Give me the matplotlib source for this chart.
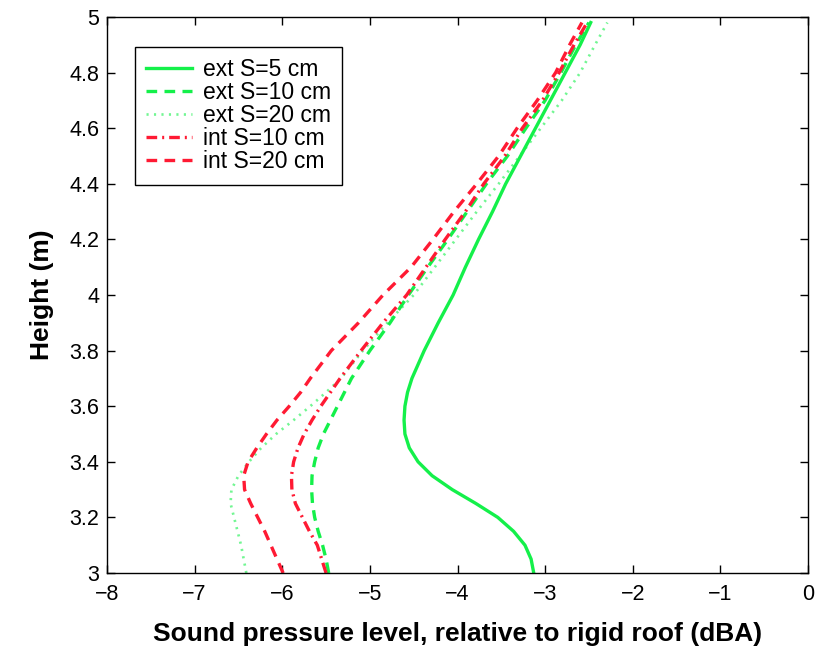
import matplotlib
matplotlib.use("Agg")
import matplotlib.pyplot as plt
from matplotlib.ticker import FuncFormatter, MultipleLocator

plt.rcParams['font.family'] = ['Liberation Sans', 'DejaVu Sans']

heights = [3.00, 3.05, 3.10, 3.15, 3.20, 3.25, 3.30, 3.35, 3.40, 3.45, 3.50,
           3.55, 3.60, 3.65, 3.70, 3.80, 3.90, 4.00, 4.10, 4.20, 4.30, 4.40,
           4.50, 4.60, 4.70, 4.80, 4.90, 4.98]

ext_s5 = [-3.13, -3.16, -3.23, -3.36, -3.54, -3.79, -4.06, -4.29, -4.45, -4.55, -4.60,
          -4.61, -4.60, -4.57, -4.52, -4.38, -4.22, -4.05, -3.91, -3.76, -3.60, -3.45,
          -3.28, -3.11, -2.94, -2.77, -2.60, -2.48]

ext_s10 = [-5.47, -5.50, -5.54, -5.59, -5.63, -5.655, -5.665, -5.66, -5.63, -5.59, -5.53,
           -5.45, -5.37, -5.29, -5.21, -5.00, -4.77, -4.56, -4.34, -4.11, -3.89, -3.67,
           -3.43, -3.22, -3.00, -2.82, -2.65, -2.50]

ext_s20 = [-6.41, -6.44, -6.47, -6.51, -6.55, -6.59, -6.58, -6.50, -6.38, -6.24, -6.07,
           -5.87, -5.68, -5.50, -5.33, -5.08, -4.80, -4.50, -4.26, -4.02, -3.78, -3.53,
           -3.29, -3.05, -2.81, -2.60, -2.43, -2.29]

int_s10 = [-5.50, -5.55, -5.60, -5.69, -5.77, -5.85, -5.89, -5.895, -5.87, -5.82, -5.75,
           -5.66, -5.56, -5.45, -5.34, -5.10, -4.85, -4.58, -4.36, -4.14, -3.91, -3.70,
           -3.46, -3.26, -3.03, -2.84, -2.67, -2.52]

int_s20 = [-5.99, -6.06, -6.13, -6.20, -6.28, -6.36, -6.43, -6.44, -6.39, -6.29, -6.18,
           -6.06, -5.92, -5.79, -5.68, -5.44, -5.13, -4.85, -4.53, -4.28, -4.04, -3.78,
           -3.53, -3.32, -3.09, -2.88, -2.72, -2.58]

labels = ["ext S=5 cm", "ext S=10 cm", "ext S=20 cm", "int S=10 cm", "int S=20 cm"]

green = '#14f04a'
red = '#ff1a33'

fig = plt.figure(figsize=(8.23, 6.46), dpi=100)
ax = fig.add_axes([107/823, 73/646, 701/823, 556/646])

lw = 2.4
ax.plot(ext_s5, heights, color=green, lw=lw, linestyle='-', label=labels[0])
ax.plot(ext_s10, heights, color=green, lw=lw, linestyle=(0, (3.2, 2.2)), label=labels[1])
ax.plot(ext_s20, heights, color=green, lw=lw*0.8, linestyle=(0, (0.8, 2.0)), alpha=0.6, label=labels[2])
ax.plot(int_s10, heights, color=red, lw=lw, linestyle=(0, (3.2, 1.5, 0.6, 1.5)), label=labels[3])
ax.plot(int_s20, heights, color=red, lw=lw, linestyle=(0, (3.2, 2.2)), label=labels[4])

def fmt(v, pos):
    s = ('%.1f' % v).rstrip('0').rstrip('.')
    if s in ('-0', ''):
        s = '0'
    return s.replace('-', '\u2212')

ax.set_xlim(-8, 0)
ax.set_ylim(3, 5)
ax.xaxis.set_major_locator(MultipleLocator(1))
ax.yaxis.set_major_locator(MultipleLocator(0.2))
ax.xaxis.set_major_formatter(FuncFormatter(fmt))
ax.yaxis.set_major_formatter(FuncFormatter(fmt))
ax.tick_params(direction='in', top=True, right=True, length=6, width=1,
               labelsize=15.5)
ax.tick_params(axis='y', pad=5.5)
ax.tick_params(axis='x', pad=8)
for s in ax.spines.values():
    s.set_linewidth(1)

ax.set_xlabel("Sound pressure level, relative to rigid roof (dBA)", fontsize=19,
              fontweight='bold', labelpad=12)
ax.set_ylabel("Height (m)", fontsize=19, fontweight='bold', labelpad=11)

leg = ax.legend(loc='upper left', bbox_to_anchor=(0.04, 0.946), borderaxespad=0,
                fontsize=16.5, handlelength=2.0, labelspacing=0.0, fancybox=False,
                edgecolor='black', framealpha=1, borderpad=0.5, handletextpad=0.45)
leg.get_frame().set_linewidth(1)

fig.savefig("out.png", dpi=100)
